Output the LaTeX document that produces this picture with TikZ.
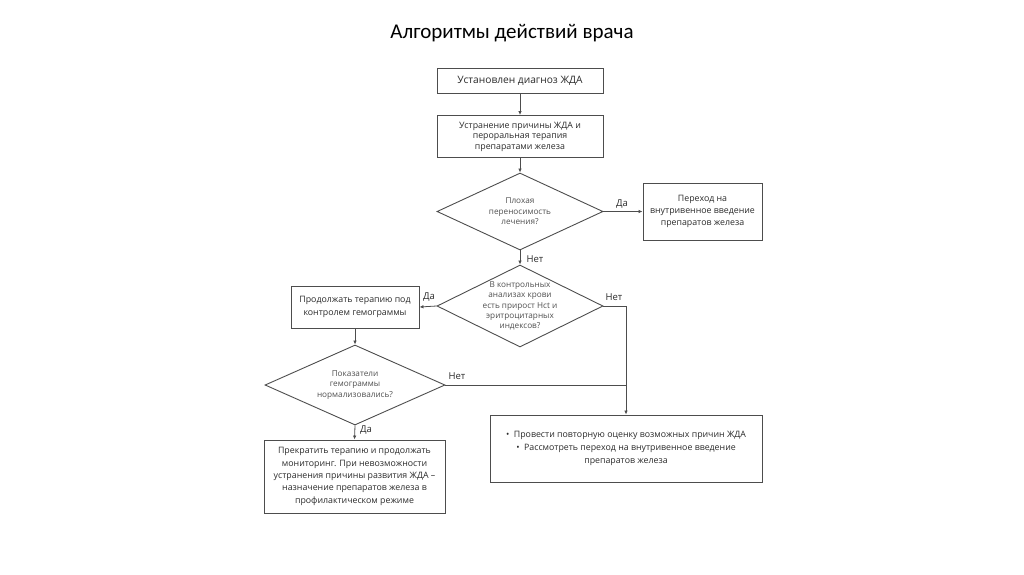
\documentclass[tikz,border=0pt]{standalone}
\usepackage{fontspec}
\setmainfont{Open Sans}
\newfontfamily\titlefont{Carlito}
\usetikzlibrary{shapes.geometric,arrows.meta}

\definecolor{linegray}{HTML}{4D4D4D}
\definecolor{boxtext}{HTML}{2B2B2B}
\definecolor{dmtext}{HTML}{505050}

\tikzset{
  block/.style={draw=linegray, line width=0.9pt, fill=white, align=center,
    text=boxtext, font=\fontsize{8.8}{12.3}\selectfont, inner sep=2pt},
  decision/.style={diamond, draw=linegray, line width=0.9pt, inner sep=0pt},
  dmlabel/.style={align=center, text=dmtext, font=\fontsize{8.2}{10.4}\selectfont},
  flow/.style={draw=linegray, line width=0.8pt, -{Latex[length=4pt,width=3.5pt]}},
  link/.style={draw=linegray, line width=0.8pt},
  answer/.style={text=boxtext, font=\fontsize{9.5}{10}\selectfont, inner sep=0pt}
}

\begin{document}
\begin{tikzpicture}[x=1pt,y=-1pt]
\useasboundingbox (0,0) rectangle (1024,574);

\node (title) at (512,33) {\titlefont\fontsize{21}{24}\selectfont Алгоритмы действий врача};

% main column
\node[block, minimum width=166pt, minimum height=25pt,
  font=\fontsize{10.2}{12}\selectfont] (diag) at (520,80.5) {Установлен диагноз ЖДА};
\node[block, minimum width=166pt, minimum height=42pt,
  font=\fontsize{8.8}{10.6}\selectfont] (oral) at (520,136.5)
  {Устранение причины ЖДА и\\ пероральная терапия\\ препаратами железа};
\node[decision, minimum width=166pt, minimum height=77pt] (tol) at (520,211.5) {};
\node[dmlabel] (tolt) at (tol.center) {Плохая\\ переносимость\\ лечения?};
\node[block, minimum width=119pt, minimum height=57pt] (iv) at (702.5,211.5)
  {Переход на\\ внутривенное введение\\ препаратов железа};
\node[decision, minimum width=166pt, minimum height=82pt] (hct) at (520,306) {};
\node[dmlabel] (hctt) at (hct.center)
  {В контрольных\\ анализах крови\\ есть прирост Hct и\\ эритроцитарных\\ индексов?};

% left branch
\node[block, minimum width=128pt, minimum height=42pt] (cont) at (355,307)
  {Продолжать терапию под\\ контролем гемограммы};
\node[decision, minimum width=180pt, minimum height=80pt] (norm) at (355,385) {};
\node[dmlabel] (normt) at (norm.center) {Показатели\\ гемограммы\\ нормализовались?};
\node[block, minimum width=181pt, minimum height=73pt] (stop) at (354.5,476.5)
  {Прекратить терапию и продолжать\\ мониторинг. При невозможности\\
   устранения причины развития ЖДА --\\ назначение препаратов железа в\\
   профилактическом режиме};

% right branch
\node[block, minimum width=272pt, minimum height=67pt,
  font=\fontsize{8.8}{13}\selectfont] (recheck) at (626,448.5)
  {\textbullet\ \ Провести повторную оценку возможных причин ЖДА\\
   \textbullet\ \ Рассмотреть переход на внутривенное введение\\
   препаратов железа};

\coordinate (j1) at (recheck.north |- hct.east);
\coordinate (j2) at (recheck.north |- norm.east);

% connectors
\draw[flow] (diag) -- (oral);
\draw[flow] (oral) -- (tol);
\draw[flow] (tol.east) -- (iv.west);
\draw[flow] (tol.south) -- (hct.north);
\draw[flow] (hct.west) -- (cont.east);
\draw[link] (hct.east) -- (j1);
\draw[flow] (j1) -- (recheck.north);
\draw[flow] (cont.south) -- (norm.north);
\draw[link] (norm.east) -- (j2);
\draw[flow] (norm.south) -- (stop.north);

% answers
\node[answer] (yes1) at (622,204) {Да};
\node[answer] (no1) at (535,259) {Нет};
\node[answer] (yes2) at (429,297) {Да};
\node[answer] (no2) at (614,297) {Нет};
\node[answer] (no3) at (457,376) {Нет};
\node[answer] (yes3) at (366,430) {Да};
\end{tikzpicture}
\end{document}
